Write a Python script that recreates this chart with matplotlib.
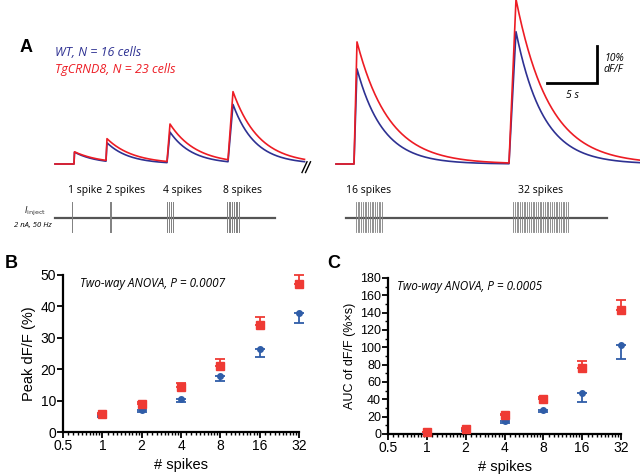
import numpy as np
import matplotlib
matplotlib.use("Agg")
import matplotlib.pyplot as plt
from matplotlib.ticker import NullFormatter

# ---------------- data ----------------
# Panel A: calcium transients (time in s, amplitude in % dF/F)
left_onsets = [1.9, 5.1, 11.2, 17.3]
left_rise = [0.05, 0.1, 0.3, 0.5]
left_red_amp = [3.3, 5.9, 10.2, 18.6]
left_blue_amp = [3.2, 5.0, 8.3, 15.6]
left_red_tau = [2.6, 2.6, 2.6, 2.6]
left_blue_tau = [2.2, 2.2, 2.2, 2.2]
left_end = 25.0

right_onsets = [1.8, 17.3]
right_rise = [0.3, 0.7]
right_red_amp = [33.0, 44.3]
right_blue_amp = [25.7, 35.7]
right_red_tau = [3.2, 3.3]
right_blue_tau = [2.6, 2.7]
right_end = 30.4

# stimulus trains (schematic positions, s)
stim_left = [[1.7], [5.45, 5.55], [11.2, 11.4, 11.6, 11.8],
             [17.2, 17.37, 17.54, 17.71, 17.88, 18.05, 18.22, 18.39]]
stim_left_labels = ["1 spike", "2 spikes", "4 spikes", "8 spikes"]
stim_right_n = [16, 32]
stim_right_start = [2.0, 17.7]
stim_right_stop = [4.6, 23.2]
stim_right_labels = ["16 spikes", "32 spikes"]

# Panels B and C
spikes = [1, 2, 4, 8, 16, 32]
peak_tg = [5.7, 8.9, 14.3, 21.0, 34.1, 47.1]
peak_tg_err = [0.5, 0.8, 1.3, 2.2, 2.5, 2.9]
peak_wt = [5.3, 7.0, 10.5, 17.8, 26.4, 37.9]
peak_wt_err = [0.4, 0.6, 0.8, 1.6, 2.5, 3.2]
auc_tg = [2.3, 6.0, 21.5, 40.0, 76.5, 143.5]
auc_tg_err = [0.5, 1.0, 2.0, 3.0, 8.0, 11.0]
auc_wt = [1.5, 4.5, 14.5, 27.7, 47.0, 103.0]
auc_wt_err = [0.4, 0.8, 1.5, 2.7, 10.0, 16.5]
xtick_vals = [0.5, 1, 2, 4, 8, 16, 32]
xtick_labels = ["0.5", "1", "2", "4", "8", "16", "32"]

# ---------------- style ----------------
RED_TR = "#ed1c24"
BLUE_TR = "#2e3192"
RED_PT = "#ef3a34"
BLUE_PT = "#2f5da8"
W, H = 640, 474
ITAL = ["Open Sans", "DejaVu Sans"]
SANS = ["Liberation Sans", "DejaVu Sans"]

fig = plt.figure(figsize=(6.4, 4.74), dpi=100)


def fx(x):
    return x / W


def fy(y):
    return 1 - y / H


def trace(t, onsets, rise, amps, taus):
    y = np.zeros_like(t)
    for t0, r, a, tau in zip(onsets, rise, amps, taus):
        up = (t >= t0) & (t < t0 + r)
        y[up] += a * (t[up] - t0) / r
        dn = t >= t0 + r
        y[dn] += a * np.exp(-(t[dn] - t0 - r) / tau)
    return y


PX_S = 10.0   # px per second
PX_P = 3.7    # px per % dF/F
BASE = 164.0  # px of baseline
TOP, BOT = 0.0, 178.0


def trace_axes(x0, x1, t_at_x0):
    ax = fig.add_axes([fx(x0), fy(BOT), (x1 - x0) / W, (BOT - TOP) / H])
    ax.set_xlim(t_at_x0, t_at_x0 + (x1 - x0) / PX_S)
    ax.set_ylim(-(BOT - BASE) / PX_P, (BASE - TOP) / PX_P)
    ax.axis("off")
    return ax


axL = trace_axes(50, 315, -0.5)
tL = np.arange(0, left_end, 0.05)
axL.plot(tL, trace(tL, left_onsets, left_rise, left_blue_amp, left_blue_tau),
         color=BLUE_TR, lw=1.2, clip_on=False)
axL.plot(tL, trace(tL, left_onsets, left_rise, left_red_amp, left_red_tau),
         color=RED_TR, lw=1.2, clip_on=False)
# break marks
for off in (0.0, 0.35):
    axL.plot([24.7 + off, 25.2 + off], [-2.3, 0.6], color="black", lw=1.0)

axR = trace_axes(330, 640, -0.6)
tR = np.arange(0, right_end, 0.05)
axR.plot(tR, trace(tR, right_onsets, right_rise, right_blue_amp, right_blue_tau),
         color=BLUE_TR, lw=1.2, clip_on=False)
axR.plot(tR, trace(tR, right_onsets, right_rise, right_red_amp, right_red_tau),
         color=RED_TR, lw=1.2, clip_on=False)
# scale bar: 5 s x 10 % dF/F
axR.plot([21.1, 26.1, 26.1], [21.9, 21.9, 31.9], color="black", lw=2.0,
         solid_joinstyle="miter", clip_on=False)
axR.text(23.6, 20.0, "5 s", fontsize=7.5, style="italic", family=ITAL,
         ha="center", va="top")
axR.text(26.8, 27.0, "10%\ndF/F", fontsize=7.5, style="italic", family=ITAL,
         ha="left", va="center", linespacing=1.1)

# stimulus axes
ST_TOP, ST_BOT = 180.0, 240.0


def stim_axes(x0, x1, t_at_x0):
    ax = fig.add_axes([fx(x0), fy(ST_BOT), (x1 - x0) / W, (ST_BOT - ST_TOP) / H])
    ax.set_xlim(t_at_x0, t_at_x0 + (x1 - x0) / PX_S)
    ax.set_ylim(ST_BOT, ST_TOP)
    ax.axis("off")
    return ax


sL = stim_axes(50, 315, -0.5)
sL.plot([0.0, 22.0], [218, 218], color="#555555", lw=1.6)
for times, lab in zip(stim_left, stim_left_labels):
    for t in times:
        sL.plot([t, t], [202, 232], color="#808080", lw=0.7)
    sL.text(times[0] - 0.4, 190, lab, fontsize=7.5, family=ITAL,
            ha="left", va="center")

sR = stim_axes(330, 640, -0.6)
sR.plot([1.0, 27.1], [218, 218], color="#555555", lw=1.6)
for n, a, b, lab in zip(stim_right_n, stim_right_start, stim_right_stop,
                        stim_right_labels):
    for t in np.linspace(a, b, n):
        sR.plot([t, t], [202, 232], color="#808080", lw=0.6)
    sR.text((a + b) / 2, 190, lab, fontsize=7.5, family=ITAL,
            ha="center", va="center")

fig.text(fx(46), fy(211), r"$I_{\mathrm{inject}}$", fontsize=6.5, ha="right",
         va="center", color="#333333")
fig.text(fx(52), fy(225), "2 nA, 50 Hz", fontsize=5.5, style="italic",
         family=ITAL, ha="right", va="center")

# legend texts
fig.text(fx(55), fy(53), "WT, N = 16 cells", color=BLUE_TR, fontsize=9,
         style="italic", family=ITAL, ha="left", va="center")
fig.text(fx(55), fy(69), "TgCRND8, N = 23 cells", color=RED_TR, fontsize=9,
         style="italic", family=ITAL, ha="left", va="center")

# panel letters
for lab, x, y in (("A", 20, 48), ("B", 5, 264), ("C", 327, 264)):
    fig.text(fx(x), fy(y), lab, fontsize=13, fontweight="bold", family=SANS,
             ha="left", va="center")


def dot_panel(pos, tg, tg_err, wt, wt_err, ylim, yticks, yminor, ylabel,
              ylabel_size, ytick_size, anova, anova_x):
    ax = fig.add_axes(pos)
    ax.errorbar(spikes, wt, yerr=[wt_err, [0] * len(wt)], fmt="o",
                color=BLUE_PT, ms=4, capsize=3.5, elinewidth=1.3, capthick=1.3,
                clip_on=False, zorder=3)
    ax.errorbar(spikes, tg, yerr=[[0] * len(tg), tg_err], fmt="s",
                color=RED_PT, ms=5.5, capsize=3.5, elinewidth=1.3, capthick=1.3,
                clip_on=False, zorder=4)
    ax.set_xscale("log", base=2)
    ax.set_xlim(0.5, 32)
    ax.set_ylim(*ylim)
    ax.set_xticks(xtick_vals)
    ax.set_xticklabels(xtick_labels)
    minor = []
    for b in xtick_vals[:-1]:
        minor += [b * (1 + k / 10) for k in range(1, 10)]
    ax.set_xticks(minor, minor=True)
    ax.xaxis.set_minor_formatter(NullFormatter())
    ax.set_yticks(yticks)
    if yminor:
        ax.set_yticks(yminor, minor=True)
    for s in ("top", "right"):
        ax.spines[s].set_visible(False)
    for s in ("left", "bottom"):
        ax.spines[s].set_linewidth(1.6)
    ax.tick_params(which="major", length=4, width=1.3, pad=1)
    ax.tick_params(which="minor", length=2.5, width=1.0)
    ax.tick_params(axis="x", labelsize=10)
    ax.tick_params(axis="y", labelsize=ytick_size)
    for lab in ax.get_xticklabels() + ax.get_yticklabels():
        lab.set_family(SANS)
    ax.set_xlabel("# spikes", fontsize=10.5, family=SANS, labelpad=4)
    ax.set_ylabel(ylabel, fontsize=ylabel_size, family=SANS, labelpad=3)
    ax.text(anova_x, 0.945, anova, transform=ax.transAxes, fontsize=8.5,
            style="italic", family=ITAL, ha="left", va="center")
    return ax


dot_panel([fx(63), fy(432), 236 / W, 157 / H], peak_tg, peak_tg_err,
          peak_wt, peak_wt_err, (0, 50), [0, 10, 20, 30, 40, 50], None,
          "Peak dF/F (%)", 10.5, 10, "Two-way ANOVA, P = 0.0007", 0.07)
dot_panel([fx(388), fy(434), 233 / W, 156 / H], auc_tg, auc_tg_err,
          auc_wt, auc_wt_err, (0, 180), list(range(0, 181, 20)),
          list(range(10, 180, 20)), "AUC of dF/F (%\u00d7s)", 9, 9,
          "Two-way ANOVA, P = 0.0005", 0.04)

fig.savefig("out.png", dpi=100)
